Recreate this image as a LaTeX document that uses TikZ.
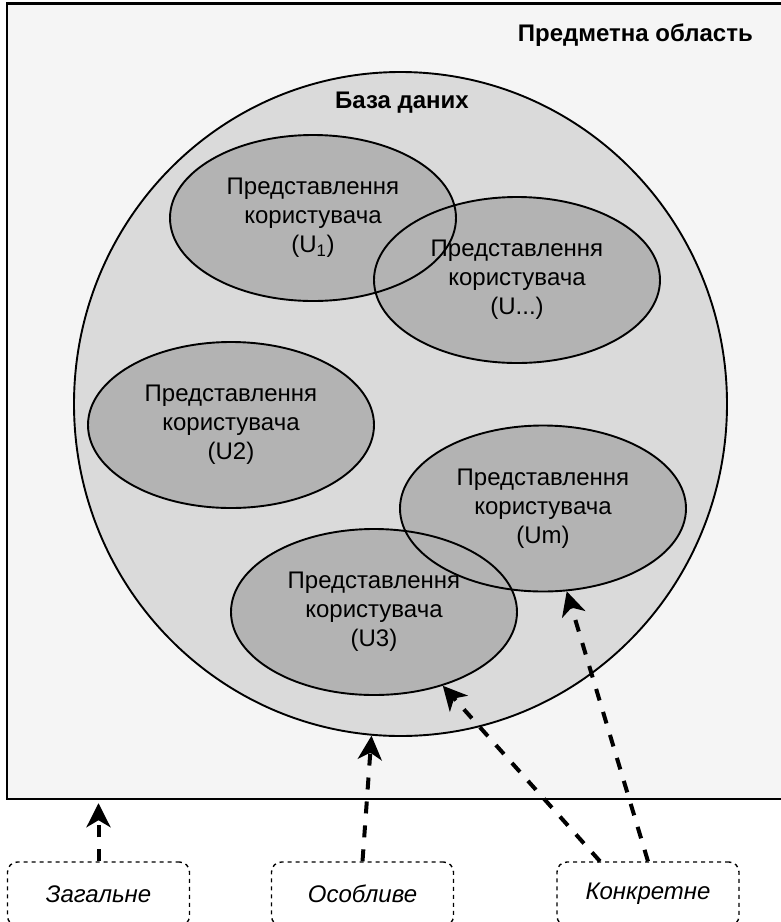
\documentclass[tikz,border=0pt]{standalone}
\usepackage{fontspec}
\setmainfont{Liberation Sans}
\usetikzlibrary{arrows.meta,shapes.geometric}
\definecolor{areafill}{HTML}{F5F5F5}
\definecolor{dbfill}{HTML}{DADADA}
\definecolor{viewfill}{HTML}{B3B3B3}

\begin{document}
\begin{tikzpicture}[x=1pt, y=-1pt,
  labeltext/.style={font=\fontsize{24}{29}\selectfont, inner sep=0pt, align=center},
  headtext/.style={font=\fontsize{24}{29}\selectfont\bfseries, inner sep=0pt},
  view/.style={ellipse, draw, line width=1.9pt, minimum width=286pt, minimum height=166pt, labeltext},
  levelbox/.style={draw, line width=1.4pt, dash pattern=on 4pt off 4pt, rounded corners=10pt,
    minimum width=182pt, minimum height=64pt, inner sep=0pt, font=\fontsize{24}{29}\selectfont\itshape},
  link/.style={line width=4pt, dash pattern=on 12pt off 12pt, -{Stealth[length=24pt, width=24pt, inset=7pt]}}
]
\useasboundingbox (0,0) rectangle (780,922);
\fill[white] (0,0) rectangle (780,922);

% subject area frame
\node[draw, line width=2.4pt, fill=areafill, minimum width=780pt, minimum height=795.5pt, inner sep=0pt]
  (area) at (397, 401.25) {};
\node[headtext, anchor=east] (areatitle) at (753, 35) {Предметна область};

% database
\node[ellipse, draw, line width=1.9pt, fill=dbfill, minimum width=653pt, minimum height=664pt, inner sep=0pt]
  (db) at (400.5, 404) {};
\node[headtext] (dbtitle) at (402, 103) {База даних};

% user views: fills first, so every outline stays visible where they overlap
\coordinate (p1) at (313, 218);
\coordinate (pdots) at (517, 280);
\coordinate (p2) at (231, 425);
\coordinate (pm) at (543, 508.5);
\coordinate (p3) at (374, 612);
\foreach \p in {p1,pdots,p2,pm,p3}
  \fill[viewfill] (\p) ellipse [x radius=143pt, y radius=83pt];

\node[view] (u1) at (p1) {Представлення\\користувача\\(U\textsubscript{1})};
\node[view] (udots) at (pdots) {Представлення\\користувача\\(U...)};
\node[view] (u2) at (p2) {Представлення\\користувача\\(U2)};
\node[view] (um) at (pm) {Представлення\\користувача\\(Um)};
\node[view] (u3) at (p3) {Представлення\\користувача\\(U3)};

% abstraction levels
\node[levelbox] (general) at (98.5, 894) {Загальне};
\node[levelbox] (special) at (362.5, 894) {Особливе};
\node[levelbox] (concrete) at (648, 894) {Конкретне};

% links
\draw[link, shorten >=3pt] (general.north) -- (general.north |- area.south);
\draw[link] (special.north) -- (db.265.4);
\draw[link] ([xshift=-48pt]concrete.north) -- (u3.313);
\draw[link] (concrete.north) -- (um.286);
\end{tikzpicture}
\end{document}
